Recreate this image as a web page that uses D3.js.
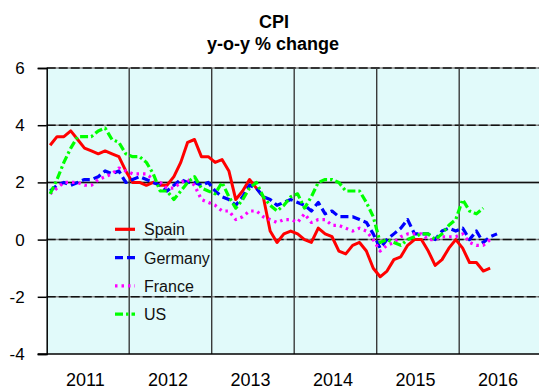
<!DOCTYPE html>
<html>
<head>
<meta charset="utf-8">
<script src="https://cdn.jsdelivr.net/npm/d3@7"></script>
<style>
  html, body { margin: 0; padding: 0; background: #ffffff; }
  svg { display: block; font-family: "Liberation Sans", Arial, sans-serif; }
</style>
</head>
<body>
<svg id="chart" width="539" height="388"></svg>
<script>
// Monthly CPI, y-o-y % change, starting January 2011
const years = ["2011", "2012", "2013", "2014", "2015", "2016"];
const yTicks = [-4, -2, 0, 2, 4, 6];

const spain = [
  3.3, 3.6, 3.6, 3.8, 3.5, 3.2, 3.1, 3.0, 3.1, 3.0, 2.9, 2.4,
  2.0, 2.0, 1.9, 2.0, 1.9, 1.9, 2.2, 2.7, 3.4, 3.5, 2.9, 2.9,
  2.7, 2.8, 2.4, 1.4, 1.7, 2.1, 1.8, 1.5, 0.3, -0.1, 0.2, 0.3,
  0.2, 0.0, -0.1, 0.4, 0.2, 0.1, -0.4, -0.5, -0.2, -0.1, -0.4, -1.0,
  -1.3, -1.1, -0.7, -0.6, -0.2, 0.0, 0.0, -0.4, -0.9, -0.7, -0.3, 0.0,
  -0.3, -0.8, -0.8, -1.1, -1.0
];
const germany = [
  1.7, 1.9, 2.0, 1.9, 2.0, 2.1, 2.1, 2.2, 2.4, 2.3, 2.4, 2.0,
  2.1, 2.2, 2.1, 2.0, 1.9, 1.7, 1.9, 2.1, 2.0, 2.0, 1.9, 2.0,
  1.7, 1.5, 1.4, 1.2, 1.5, 1.9, 1.8, 1.5, 1.4, 1.2, 1.3, 1.4,
  1.3, 1.2, 1.0, 1.3, 0.9, 1.0, 0.8, 0.8, 0.8, 0.7, 0.6, 0.2,
  -0.3, 0.0, 0.2, 0.4, 0.7, 0.2, 0.2, 0.2, 0.0, 0.3, 0.4, 0.3,
  0.4, 0.0, 0.3, -0.1, 0.1, 0.2
];
const france = [
  1.6, 1.8, 2.0, 2.0, 2.0, 1.9, 1.9, 2.1, 2.2, 2.3, 2.5, 2.4,
  2.3, 2.3, 2.3, 2.1, 2.0, 1.8, 1.8, 2.0, 2.1, 1.9, 1.4, 1.3,
  1.2, 1.0, 1.0, 0.7, 0.8, 1.0, 1.0, 0.8, 0.7, 0.6, 0.7, 0.7,
  0.6, 0.9, 0.6, 0.7, 0.7, 0.5, 0.5, 0.4, 0.3, 0.4, 0.3, 0.0,
  -0.4, -0.2, -0.1, 0.1, 0.2, 0.2, 0.2, 0.0, 0.0, 0.1, 0.1, 0.1,
  0.2, -0.1, -0.2, -0.2, 0.0
];
const us = [
  1.6, 2.1, 2.7, 3.2, 3.6, 3.6, 3.6, 3.8, 3.9, 3.5, 3.4, 3.0,
  2.9, 2.9, 2.7, 2.3, 1.7, 1.7, 1.4, 1.7, 2.0, 2.2, 1.8, 1.7,
  1.6, 2.0, 1.5, 1.1, 1.4, 1.8, 2.0, 1.5, 1.2, 1.0, 1.2, 1.5,
  1.6, 1.1, 1.5, 2.0, 2.1, 2.1, 2.0, 1.7, 1.7, 1.7, 1.3, 0.8,
  -0.1, 0.0, -0.1, -0.2, 0.0, 0.1, 0.2, 0.2, 0.0, 0.2, 0.5, 0.7,
  1.4, 1.0, 0.9, 1.1
];

const seriesNames = ["Spain", "Germany", "France", "US"];
const seriesData = [spain, germany, france, us];
const seriesColors = ["#ff0000", "#0000ff", "#ff00ff", "#00ff00"];
const seriesDash = [null, "8,4", "2.5,4", "8,3,2.5,3"];

const svg = d3.select("#chart");
const plotLeft = 46.7, plotTop = 68, plotBottom = 354, plotRight = 541.7;

// x in months since January 2011; each point sits mid-month
const x = d3.scaleLinear().domain([0, years.length * 12]).range([plotLeft, plotRight]);
const y = d3.scaleLinear().domain([-4, 6]).range([plotBottom, plotTop]);

// plot background
svg.append("rect")
  .attr("x", plotLeft).attr("y", plotTop)
  .attr("width", plotRight - plotLeft).attr("height", plotBottom - plotTop)
  .attr("fill", "#e1fafa");

// horizontal gridlines
const grid = svg.append("g");
yTicks.filter(t => t > -4).forEach(t => {
  grid.append("line")
    .attr("x1", plotLeft).attr("x2", plotRight)
    .attr("y1", y(t)).attr("y2", y(t))
    .attr("stroke", "#8a8a8a").attr("stroke-width", 1.5);
  grid.append("line")
    .attr("x1", plotLeft).attr("x2", plotRight)
    .attr("y1", y(t)).attr("y2", y(t))
    .attr("stroke", "#111").attr("stroke-width", 1.5)
    .attr("stroke-dasharray", t === 2 ? null : "9,3");
});

// year separators
d3.range(1, years.length).forEach(i => {
  grid.append("line")
    .attr("x1", x(i * 12)).attr("x2", x(i * 12))
    .attr("y1", plotTop).attr("y2", plotBottom)
    .attr("stroke", "#3a3a3a").attr("stroke-width", 1.4);
});

// y axis
const yAxis = d3.axisLeft(y).tickValues(yTicks).tickSize(9).tickPadding(13)
  .tickFormat(d => String(d));
svg.append("g").attr("transform", `translate(${plotLeft},0)`).call(yAxis)
  .call(g => g.select(".domain").attr("stroke", "#000").attr("stroke-width", 1.5))
  .call(g => g.selectAll(".tick line").attr("stroke", "#000").attr("stroke-width", 1.5))
  .call(g => g.selectAll(".tick text")
    .attr("font-size", 17).attr("fill", "#000")
    .attr("font-family", "Liberation Sans, Arial, sans-serif"));

// x axis line and year labels
svg.append("line")
  .attr("x1", plotLeft - 9).attr("x2", plotRight)
  .attr("y1", plotBottom).attr("y2", plotBottom)
  .attr("stroke", "#000").attr("stroke-width", 1.5);

const xAxis = d3.axisBottom(x)
  .tickValues(years.map((_, i) => i * 12 + 6))
  .tickFormat((_, i) => years[i])
  .tickSize(0).tickPadding(0);
svg.append("g").attr("transform", `translate(-3,${plotBottom})`).call(xAxis)
  .call(g => g.select(".domain").remove())
  .call(g => g.selectAll(".tick text")
    .attr("dy", null).attr("y", 31.5)
    .attr("font-size", 18).attr("fill", "#000")
    .attr("font-family", "Liberation Sans, Arial, sans-serif"));

// series lines
const line = d3.line()
  .x((d, i) => x(i + 0.5))
  .y(d => y(d));

seriesData.forEach((data, k) => {
  svg.append("path")
    .datum(data)
    .attr("d", line)
    .attr("fill", "none")
    .attr("stroke", seriesColors[k])
    .attr("stroke-width", k === 0 ? 3 : 3.2)
    .attr("stroke-linejoin", "round")
    .attr("stroke-dasharray", seriesDash[k]);
});

// legend
const legend = svg.append("g");
const legendY = d3.scaleLinear().domain([0, 1]).range([229.3, 257.6]);
seriesNames.forEach((name, k) => {
  const ly = legendY(k);
  legend.append("line")
    .attr("x1", 115).attr("x2", 135)
    .attr("y1", ly).attr("y2", ly)
    .attr("stroke", seriesColors[k])
    .attr("stroke-width", 3.2)
    .attr("stroke-dasharray", seriesDash[k]);
  legend.append("text")
    .attr("x", 144).attr("y", ly + 6)
    .attr("font-size", 16).attr("fill", "#111")
    .text(name);
});

// title
const title = svg.append("g").attr("text-anchor", "middle").attr("font-weight", "bold")
  .attr("font-size", 18).attr("fill", "#000");
title.append("text").attr("x", 274).attr("y", 28).text("CPI");
title.append("text").attr("x", 273).attr("y", 50).text("y-o-y % change");
</script>
</body>
</html>
